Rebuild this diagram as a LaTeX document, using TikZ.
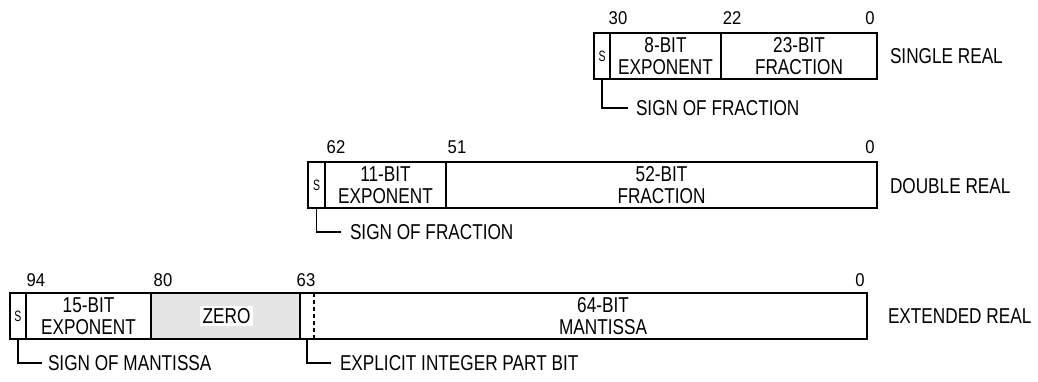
\documentclass[tikz,border=0pt]{standalone}
\usepackage{fontspec}
\setmainfont{Liberation Sans}
\newfontfamily\narfont[FakeStretch=0.8]{Liberation Sans}
\newfontfamily\numfont[FakeStretch=0.9]{Liberation Sans}
\newfontfamily\sfont[FakeStretch=0.7]{Liberation Sans}
\begin{document}
\begin{tikzpicture}[x=1pt,y=-1pt,
  every node/.style={font=\narfont\fontsize{21.5}{21.5}\selectfont, inner sep=0pt, outer sep=0pt},
  field/.style={draw, line width=1.2pt, anchor=north west, minimum height=46pt, align=center},
  lbl/.style={anchor=west},
  num/.style={anchor=center, font=\numfont\fontsize{18.5}{18.5}\selectfont},
  sbit/.style={font=\sfont\fontsize{15}{15}\selectfont},
  lead/.style={line width=1.2pt}]
\useasboundingbox (0,0) rectangle (1038,382);
% ---- single real
\node[field, minimum width=16pt] (s1) at (594,33) {};
\node[field, minimum width=111pt] (e1) at (610,33) {};
\node[field, minimum width=156pt] (f1) at (721,33) {};
\node[sbit] at (s1.center) {S};
\node[align=center] at (e1.center) {8-BIT\\EXPONENT};
\node[align=center] at (f1.center) {23-BIT\\FRACTION};
\node[num] (n30) at (618,18) {30};
\node[num] (n22) at (732,18) {22};
\node[num] (n0a) at (870,18) {0};
\node[lbl] (t1) at (890,56) {SINGLE REAL};
\node[lbl] (sg1) at (636,108) {SIGN OF FRACTION};
\draw[lead] (s1.south) |- ([xshift=-8pt]sg1.west);
% ---- double real
\node[field, minimum width=17pt] (s2) at (308,162) {};
\node[field, minimum width=121pt] (e2) at (325,162) {};
\node[field, minimum width=431pt] (f2) at (446,162) {};
\node[sbit] at (s2.center) {S};
\node[align=center] at (e2.center) {11-BIT\\EXPONENT};
\node[align=center] at (f2.center) {52-BIT\\FRACTION};
\node[num] (n62) at (336,147) {62};
\node[num] (n51) at (457,147) {51};
\node[num] (n0b) at (870,147) {0};
\node[lbl] (t2) at (890,186) {DOUBLE REAL};
\node[lbl] (sg2) at (350,232) {SIGN OF FRACTION};
\draw[lead] (s2.south) |- ([xshift=-9pt]sg2.west);
% ---- extended real
\node[field, minimum width=16pt] (s3) at (10,293) {};
\node[field, minimum width=125pt] (e3) at (26,293) {};
\node[field, minimum width=149pt, fill=black!10] (z3) at (151,293) {};
\node[field, minimum width=567pt] (m3) at (300,293) {};
\node[sbit] at (s3.center) {S};
\node[align=center] at (e3.center) {15-BIT\\EXPONENT};
\node[fill=white, inner xsep=3pt, inner ysep=2pt] at ([xshift=1pt]z3.center) {ZERO};
\node[align=center] at (603,316) {64-BIT\\MANTISSA};
\draw[line width=1.2pt, dash pattern=on 4pt off 3pt] ([xshift=14pt]m3.north west) -- ([xshift=14pt]m3.south west);
\node[num] (n94) at (36,280) {94};
\node[num] (n80) at (163,280) {80};
\node[num] (n63) at (306,280) {63};
\node[num] (n0c) at (860,280) {0};
\node[lbl] (t3) at (888,316) {EXTENDED REAL};
\node[lbl] (sg3) at (48,363) {SIGN OF MANTISSA};
\node[lbl] (ib3) at (340,363) {EXPLICIT INTEGER PART BIT};
\coordinate (ibx) at ([xshift=7pt]m3.south west);
\draw[lead] (s3.south) |- ([xshift=-6pt]sg3.west);
\draw[lead] (ibx) |- ([xshift=-9pt]ib3.west);
\end{tikzpicture}
\end{document}
